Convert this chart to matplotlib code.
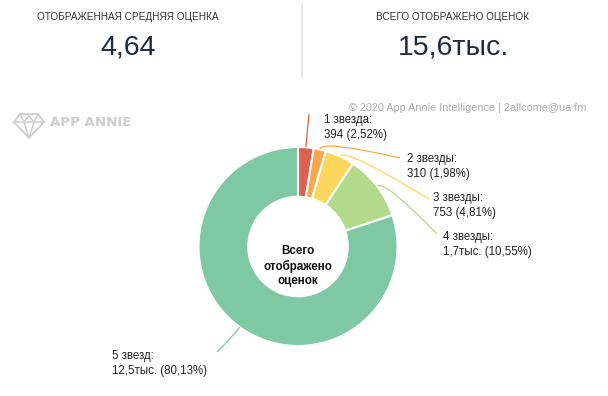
import matplotlib.pyplot as plt
import numpy as np
from matplotlib.path import Path
from matplotlib.patches import PathPatch

# ratings data
stars = ['1 звезда', '2 звезды', '3 звезды', '4 звезды', '5 звезд']
counts = [394, 310, 753, 1650, 12500]
shares = [2.52, 1.98, 4.81, 10.55, 80.13]
count_labels = ['394', '310', '753', '1,7тыс.', '12,5тыс.']
colors = ['#e0604f', '#f6a84b', '#fdd65d', '#b3d98b', '#7fc8a4']

avg_title = 'ОТОБРАЖЕННАЯ СРЕДНЯЯ ОЦЕНКА'
avg_value = '4,64'
total_title = 'ВСЕГО ОТОБРАЖЕНО ОЦЕНОК'
total_value = '15,6тыс.'

W, H = 608, 396
fig = plt.figure(figsize=(W / 100, H / 100), dpi=100)
ax = fig.add_axes([0, 0, 1, 1])


def px(x, y):
    # pixel coords (y down) -> data coords (y up)
    return x, H - y


# header
for hx, title, value in [(128, avg_title, avg_value), (453, total_title, total_value)]:
    ax.text(*px(hx, 17), title, ha='center', va='center', fontsize=7.2,
            family='Liberation Sans', color='#333333')
    ax.text(*px(hx, 48), value, ha='center', va='center', fontsize=20.5,
            family='Liberation Sans', color='#1e2a3f')
ax.plot(*zip(px(302, 4), px(302, 78)), color='#e2e2e2', lw=1.2)

# logo
logo = [(20, 114), (38, 114), (44, 122), (29, 138), (14, 122), (20, 114)]
ax.plot(*zip(*[px(*p) for p in logo]), color='#cdcdd2', lw=1.3)
for seg in [[(14, 122), (44, 122)], [(20, 114), (24, 122), (29, 138)],
            [(38, 114), (34, 122), (29, 138)], [(24, 122), (29, 116), (34, 122)]]:
    ax.plot(*zip(*[px(*p) for p in seg]), color='#cdcdd2', lw=1.1)
ax.text(*px(50, 123), 'APP ANNIE', ha='left', va='center', fontsize=9.6,
        fontweight='bold', family='DejaVu Sans', color='#cdcdd2')

ax.text(*px(586, 108), '© 2020 App Annie Intelligence | 2allcome@ua.fm', ha='right',
        va='center', fontsize=7.8, family='Liberation Sans', color='#ababab')

# donut
cx, cy, R = 298, 246.5, 99.5
wedges, _ = ax.pie(counts, colors=colors, startangle=90, counterclock=False,
                   center=px(cx, cy), radius=R,
                   wedgeprops=dict(width=R * 0.5, edgecolor='white', linewidth=1.5))

for dy, word in [(251, 'Всего'), (266, 'отображено'), (281, 'оценок')]:
    ax.text(*px(cx, dy), word, ha='center', va='center', fontsize=8.4,
            fontweight='bold', family='Liberation Sans', color='#111111')

# labels with curved leader lines
label_pos = [(324, 120), (407, 159), (433, 198), (443, 237), (112, 356)]
line_end = [(309, 114), (400, 158), (429, 199), (437, 234), (217, 352)]
for w, star, cl, sh, col, (lx, ly), (ex, ey) in zip(
        wedges, stars, count_labels, shares, colors, label_pos, line_end):
    ang = np.deg2rad((w.theta1 + w.theta2) / 2)
    x0, y0 = px(cx, cy)
    p0 = (x0 + R * np.cos(ang), y0 + R * np.sin(ang))
    p1 = (x0 + R * 1.1 * np.cos(ang), y0 + R * 1.1 * np.sin(ang))
    path = Path([p0, p1, px(ex, ey)], [Path.MOVETO, Path.CURVE3, Path.CURVE3])
    ax.add_patch(PathPatch(path, fill=False, edgecolor=col, lw=0.9))
    ax.text(*px(lx, ly), star + ':', ha='left', va='center', fontsize=8.3,
            family='Liberation Sans', color='#222222')
    ax.text(*px(lx, ly + 15), '%s (%s%%)' % (cl, ('%.2f' % sh).replace('.', ',')),
            ha='left', va='center', fontsize=8.3, family='Liberation Sans', color='#222222')

ax.set_xlim(0, W)
ax.set_ylim(0, H)
ax.set_aspect('auto')
ax.axis('off')

fig.savefig('out.png', dpi=100, facecolor='white')
